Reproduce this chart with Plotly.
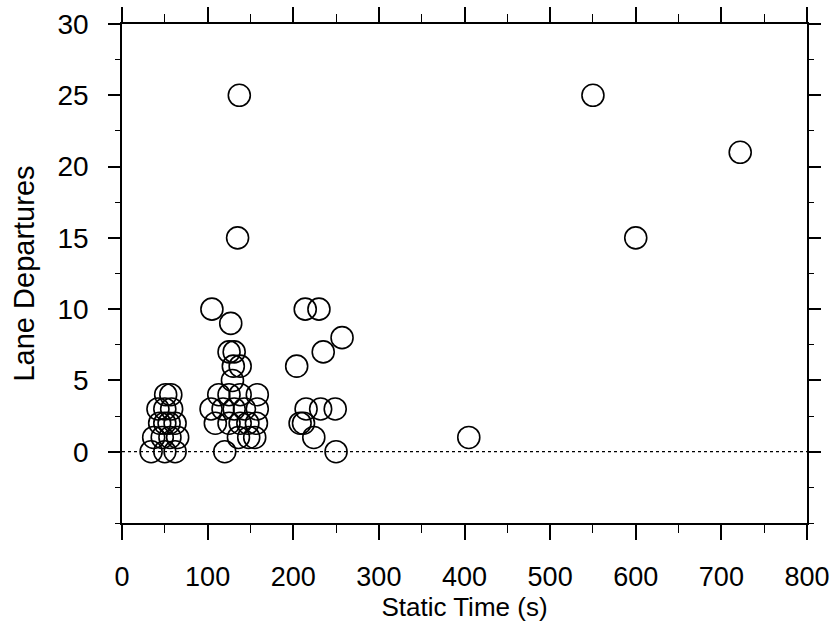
import plotly.graph_objects as go

# Static time (s) and lane departures
static_time = [
    # cluster near 50 s
    51, 57,
    42, 50, 58,
    44, 50, 55, 62,
    37, 47, 56, 65,
    34, 50, 62,
    # cluster near 130 s
    137, 135, 105, 127, 125, 131, 130, 138, 129,
    113, 125, 138, 158,
    104, 118, 131, 143, 158,
    109, 125, 138, 147, 157,
    136, 148, 155,
    120,
    # cluster near 230 s
    214, 230, 257, 235, 204, 215, 232, 249, 208, 212, 224, 250,
    # isolated
    405, 550, 600, 722,
]
lane_departures = [
    4, 4,
    3, 3, 3,
    2, 2, 2, 2,
    1, 1, 1, 1,
    0, 0, 0,
    25, 15, 10, 9, 7, 7, 6, 6, 5,
    4, 4, 4, 4,
    3, 3, 3, 3, 3,
    2, 2, 2, 2, 2,
    1, 1, 1,
    0,
    10, 10, 8, 7, 6, 3, 3, 3, 2, 2, 1, 0,
    1, 25, 15, 21,
]

x_ticks = [0, 100, 200, 300, 400, 500, 600, 700, 800]
y_ticks = [0, 5, 10, 15, 20, 25, 30]

FONT = "Liberation Sans, Arial, Helvetica, sans-serif"

fig = go.Figure()
fig.add_trace(go.Scatter(
    x=static_time, y=lane_departures, mode="markers",
    marker=dict(symbol="circle-open", size=22, color="black",
                line=dict(width=1.6, color="black")),
    showlegend=False, hoverinfo="x+y",
))

fig.add_shape(type="line", xref="x", yref="y", x0=0, x1=800, y0=0, y1=0,
              line=dict(color="black", width=1.2, dash="dot"), layer="below")

axis_common = dict(
    showgrid=False, zeroline=False, showline=True, linecolor="black",
    linewidth=1.6, mirror="ticks", ticks="outside", tickcolor="black",
    tickwidth=1.6, automargin=False,
)

fig.update_xaxes(
    range=[0, 800], tickvals=x_ticks, ticktext=[str(v) for v in x_ticks],
    ticklen=15, ticklabelstandoff=14,
    tickfont=dict(family=FONT, size=27, color="black"),
    minor=dict(ticks="outside", dtick=50, tick0=0, ticklen=8,
               tickcolor="black", tickwidth=1.4),
    title=dict(text="Static Time (s)", font=dict(family=FONT, size=26, color="black"),
               standoff=0),
    **axis_common,
)
fig.update_yaxes(
    range=[-5, 30], tickvals=y_ticks, ticktext=[str(v) for v in y_ticks],
    ticklen=12, ticklabelstandoff=14,
    tickfont=dict(family=FONT, size=28, color="black"),
    minor=dict(ticks="outside", dtick=2.5, tick0=0, ticklen=5,
               tickcolor="black", tickwidth=1.4),
    title=dict(text="Lane Departures", font=dict(family=FONT, size=29, color="black"),
               standoff=14),
    **axis_common,
)

fig.update_layout(
    width=836, height=644,
    margin=dict(l=122, r=29, t=24, b=121),
    paper_bgcolor="white", plot_bgcolor="white",
    font=dict(family=FONT, color="black"),
)

fig.write_html("out.html", config={"displayModeBar": False},
               post_script="document.body.style.margin='0';")
